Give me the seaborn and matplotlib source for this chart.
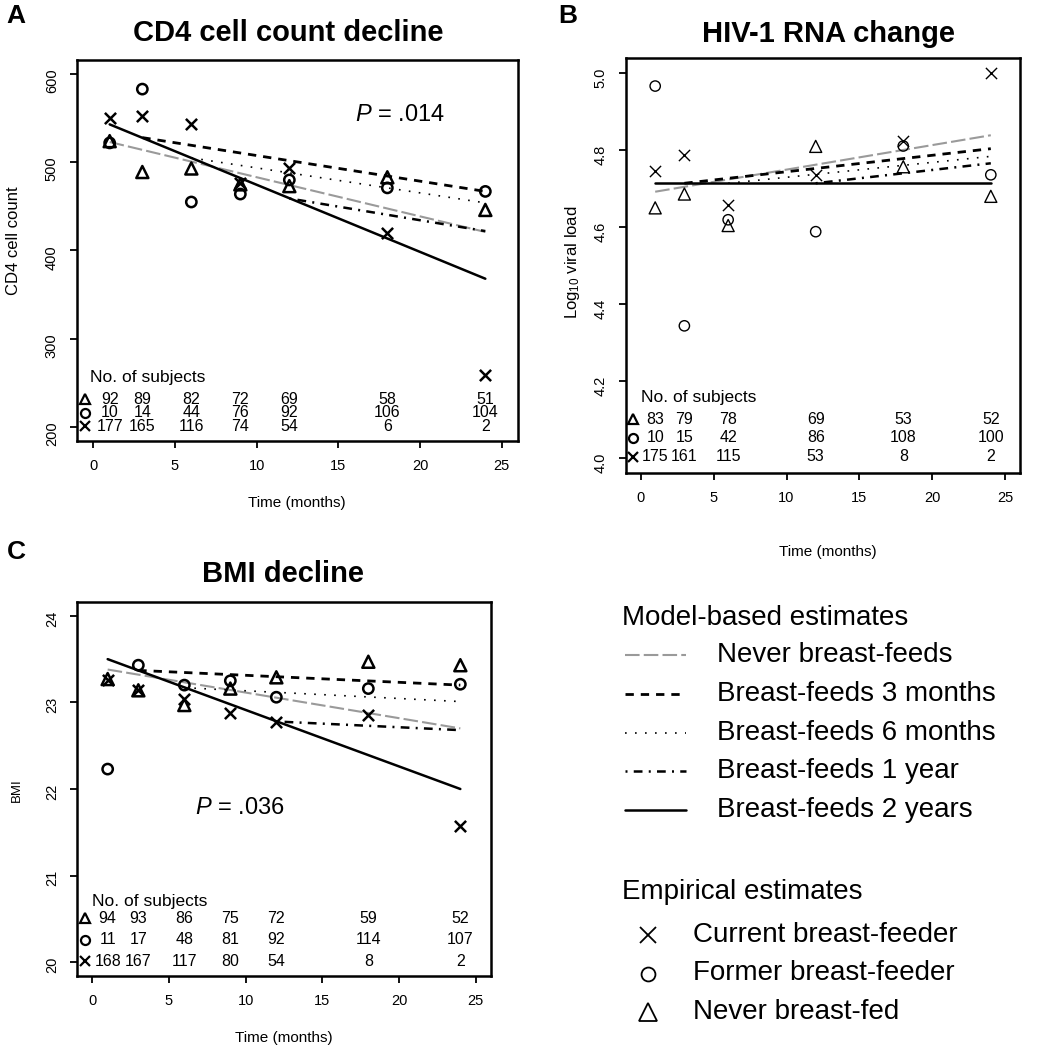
import numpy as np
import pandas as pd
import matplotlib.pyplot as plt
import matplotlib.transforms as mtransforms
from matplotlib.ticker import FormatStrFormatter
import seaborn as sns

sns.set_theme(style="ticks")
plt.rcParams['font.family'] = ['Liberation Sans', 'DejaVu Sans']
plt.rcParams['mathtext.fontset'] = 'custom'
plt.rcParams['mathtext.rm'] = 'Liberation Sans'
plt.rcParams['mathtext.it'] = 'Liberation Sans:italic'
plt.rcParams['axes.edgecolor'] = 'black'
plt.rcParams['text.color'] = 'black'
plt.rcParams['axes.labelcolor'] = 'black'
plt.rcParams['xtick.color'] = 'black'
plt.rcParams['ytick.color'] = 'black'

# visit times (months)
times = [1, 3, 6, 9, 12, 18, 24]
times_vl = [1, 3, 6, 12, 18, 24]

# model-based lines: start month of each line, value there and at 24 months
model_names = ["Never breast-feeds", "Breast-feeds 3 months", "Breast-feeds 6 months",
               "Breast-feeds 1 year", "Breast-feeds 2 years"]
model_start = [1, 3, 6, 12, 1]

# A - CD4 cell count
cd4_current = [550, 552, 543, 476, 493, 420, 259]
cd4_former = [522, 583, 455, 464, 480, 471, 467]
cd4_never = [524, 489, 493, 475, 473, 483, 446]
cd4_n_never = [92, 89, 82, 72, 69, 58, 51]
cd4_n_former = [10, 14, 44, 76, 92, 106, 104]
cd4_n_current = [177, 165, 116, 74, 54, 6, 2]
cd4_model_start = [523, 528, 505, 459, 543]
cd4_model_end = [421, 467, 454, 422, 368]

# B - log10 viral load
vl_current = [4.745, 4.787, 4.657, 4.736, 4.824, 5.0]
vl_former = [4.967, 4.343, 4.619, 4.588, 4.811, 4.736]
vl_never = [4.65, 4.686, 4.604, 4.81, 4.757, 4.68]
vl_n_never = [83, 79, 78, 69, 53, 52]
vl_n_former = [10, 15, 42, 86, 108, 100]
vl_n_current = [175, 161, 115, 53, 8, 2]
vl_model_start = [4.692, 4.714, 4.714, 4.714, 4.714]
vl_model_end = [4.839, 4.804, 4.784, 4.766, 4.714]

# C - BMI
bmi_current = [23.26, 23.14, 23.04, 22.88, 22.77, 22.85, 21.57]
bmi_former = [22.23, 23.43, 23.20, 23.25, 23.06, 23.16, 23.21]
bmi_never = [23.27, 23.14, 22.97, 23.16, 23.29, 23.47, 23.43]
bmi_n_never = [94, 93, 86, 75, 72, 59, 52]
bmi_n_former = [11, 17, 48, 81, 92, 114, 107]
bmi_n_current = [168, 167, 117, 80, 54, 8, 2]
bmi_model_start = [23.38, 23.37, 23.17, 22.78, 23.50]
bmi_model_end = [22.70, 23.20, 23.01, 22.68, 22.00]

line_styles = [
    dict(color="#9a9a9a", linewidth=1.5, linestyle=(0, (7, 2))),
    dict(color="black", linewidth=2.0, linestyle=(0, (3, 2.5))),
    dict(color="black", linewidth=1.2, linestyle=(0, (1, 5))),
    dict(color="black", linewidth=1.8, linestyle=(0, (0.8, 2.5, 3.5, 2.5))),
    dict(color="black", linewidth=1.8, linestyle="-"),
]

W, H = 1049, 1050
fig = plt.figure(figsize=(W / 100, H / 100), dpi=100)


def box(left, top, right, bottom):
    return [left / W, 1 - bottom / H, (right - left) / W, (bottom - top) / H]


def draw_panel(ax, ts, cur, frm, nev, m_start, m_end, n_nev, n_frm, n_cur,
               ylim, yticks, mlw, rows_y, nos_x, nos_y):
    for start, a, b, st in zip(model_start, m_start, m_end, line_styles):
        sns.lineplot(x=[start, 24], y=[a, b], ax=ax, errorbar=None, **st)
    sns.scatterplot(x=ts, y=cur, marker='x', color='black', s=65, linewidth=mlw, ax=ax, zorder=4)
    sns.scatterplot(x=ts, y=frm, marker='o', facecolor='none', edgecolor='black', s=55,
                    linewidth=mlw, ax=ax, zorder=4)
    sns.scatterplot(x=ts, y=nev, marker='^', facecolor='none', edgecolor='black', s=75,
                    linewidth=mlw, ax=ax, zorder=4)
    ax.set_xlim(-1, 26)
    ax.set_ylim(*ylim)
    ax.set_xticks([0, 5, 10, 15, 20, 25])
    ax.set_yticks(yticks)
    ax.tick_params(axis='both', direction='out', length=5, width=1.3, labelsize=10.5,
                   pad=8, color='black', labelcolor='black')
    ax.tick_params(axis='y', labelrotation=90)
    for sp in ax.spines.values():
        sp.set_visible(True)
        sp.set_linewidth(1.8)
    ax.set_xlabel("")
    ax.set_ylabel("")

    trans = mtransforms.blended_transform_factory(ax.transData, ax.transAxes)
    ax.text(nos_x, nos_y, "No. of subjects", transform=trans, ha='left', va='center', fontsize=12.5)
    for (mk, fc), counts, ry in zip([('^', 'none'), ('o', 'none'), ('x', 'black')],
                                    [n_nev, n_frm, n_cur], rows_y):
        ax.plot([-0.5], [ry], marker=mk, markersize=6.5, markerfacecolor=fc,
                markeredgecolor='black', markeredgewidth=1.6, linestyle='none',
                transform=trans, clip_on=False)
        for t, n in zip(ts, counts):
            ax.text(t, ry, str(n), transform=trans, ha='center', va='center', fontsize=11.5)


# Panel A
axA = fig.add_axes(box(77, 60, 518, 441))
draw_panel(axA, times, cd4_current, cd4_former, cd4_never, cd4_model_start, cd4_model_end,
           cd4_n_never, cd4_n_former, cd4_n_current, (184, 616), [200, 300, 400, 500, 600],
           1.8, [0.110, 0.074, 0.039], -0.2, 0.167)
axA.text(16.0, 0.856, "$P$ = .014", transform=mtransforms.blended_transform_factory(axA.transData, axA.transAxes),
         fontsize=17, va='center', ha='left')

# Panel B
axB = fig.add_axes(box(626, 58, 1020, 473))
draw_panel(axB, times_vl, vl_current, vl_former, vl_never, vl_model_start, vl_model_end,
           vl_n_never, vl_n_former, vl_n_current, (3.96, 5.04), [4.0, 4.2, 4.4, 4.6, 4.8, 5.0],
           1.0, [0.130, 0.085, 0.039], 0.05, 0.182)
axB.yaxis.set_major_formatter(FormatStrFormatter('%.1f'))

# Panel C
axC = fig.add_axes(box(77, 602, 491, 976))
draw_panel(axC, times, bmi_current, bmi_former, bmi_never, bmi_model_start, bmi_model_end,
           bmi_n_never, bmi_n_former, bmi_n_current, (19.84, 24.16), [20, 21, 22, 23, 24],
           1.8, [0.155, 0.097, 0.039], 0.0, 0.199)
axC.text(6.7, 0.449, "$P$ = .036", transform=mtransforms.blended_transform_factory(axC.transData, axC.transAxes),
         fontsize=17, va='center', ha='left')

# titles, panel letters and axis labels
def ftext(x, y, s, **kw):
    fig.text(x / W, 1 - y / H, s, color='black', **kw)

ftext(288, 33, "CD4 cell count decline", fontsize=21, fontweight='bold', ha='center', va='center')
ftext(829, 34, "HIV-1 RNA change", fontsize=21, fontweight='bold', ha='center', va='center')
ftext(283, 574, "BMI decline", fontsize=21, fontweight='bold', ha='center', va='center')
ftext(16, 16, "A", fontsize=19, fontweight='bold', ha='center', va='center')
ftext(568, 16, "B", fontsize=19, fontweight='bold', ha='center', va='center')
ftext(16, 552, "C", fontsize=19, fontweight='bold', ha='center', va='center')

ftext(14, 241, "CD4 cell count", fontsize=12, rotation=90, ha='center', va='center')
ftext(573, 262, "Log$_{10}$ viral load", fontsize=12, rotation=90, ha='center', va='center')
ftext(17, 790, "BMI", fontsize=9.5, rotation=90, ha='center', va='center')
ftext(297, 503, "Time (months)", fontsize=11, ha='center', va='center')
ftext(828, 552, "Time (months)", fontsize=11, ha='center', va='center')
ftext(284, 1038, "Time (months)", fontsize=11, ha='center', va='center')

# legend drawn in a pixel-coordinate overlay
lg = fig.add_axes([0, 0, 1, 1])
lg.set_xlim(0, W)
lg.set_ylim(H, 0)
lg.axis('off')
lg.text(622, 618, "Model-based estimates", fontsize=20, va='center', ha='left')
for i, (name, st) in enumerate(zip(model_names, line_styles)):
    yy = 655 + i * 38.8
    lg.plot([625, 686], [yy, yy], **st)
    lg.text(717, yy, name, fontsize=20, va='center', ha='left')
lg.text(622, 892, "Empirical estimates", fontsize=20, va='center', ha='left')
emp_names = ["Current breast-feeder", "Former breast-feeder", "Never breast-fed"]
emp_markers = ['x', 'o', '^']
emp_sizes = [11, 10, 13]
for i, (name, mk, ms) in enumerate(zip(emp_names, emp_markers, emp_sizes)):
    yy = 935 + i * 38.5
    lg.plot([648], [yy], marker=mk, markersize=ms, markerfacecolor='none',
            markeredgecolor='black', markeredgewidth=1.3, linestyle='none')
    lg.text(693, yy, name, fontsize=20, va='center', ha='left')

fig.savefig("out.png", dpi=100)
